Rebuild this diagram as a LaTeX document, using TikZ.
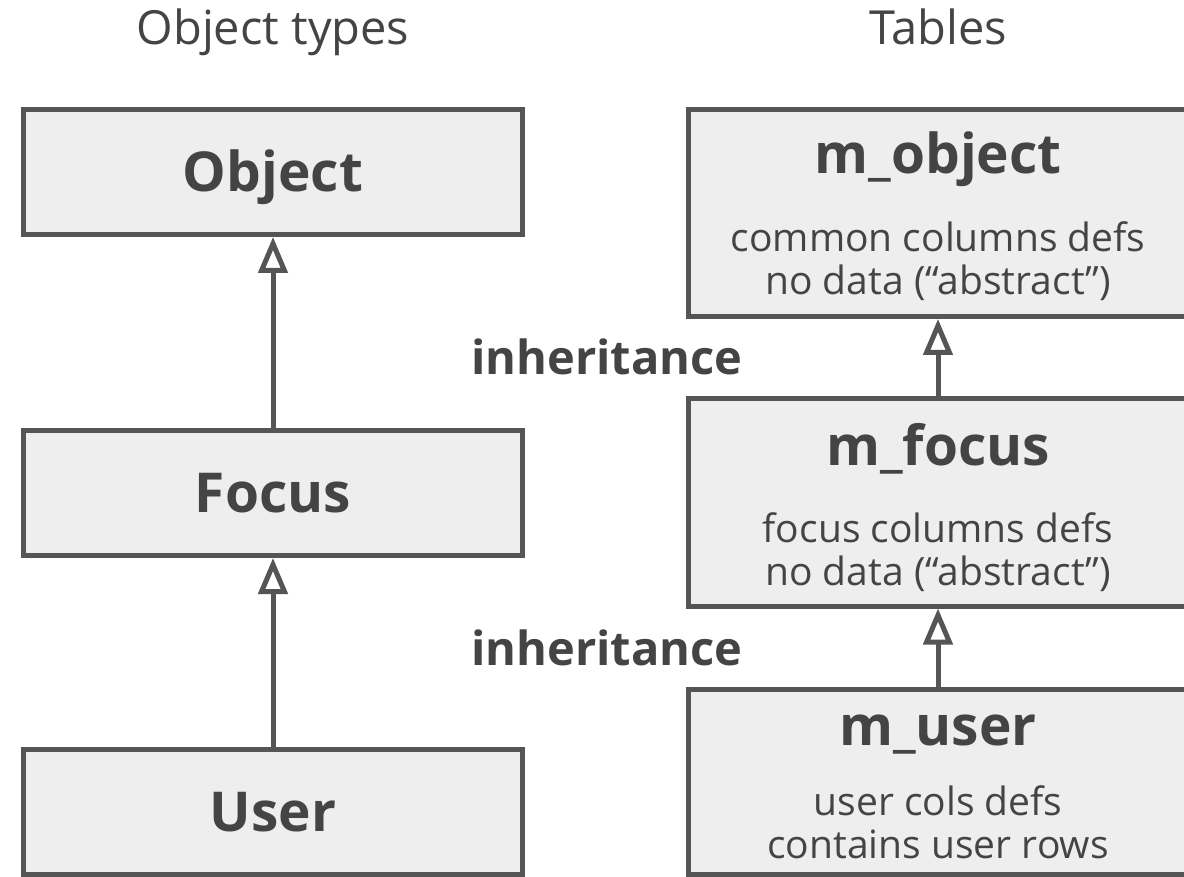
\documentclass[tikz,border=0pt]{standalone}
\usepackage{fontspec}
\setmainfont{Open Sans}
\usetikzlibrary{arrows.meta}
\definecolor{edge}{HTML}{555555}
\definecolor{boxfill}{HTML}{EEEEEE}
\definecolor{ink}{HTML}{444444}
\tikzset{
  box/.style={draw=edge, fill=boxfill, line width=5pt, inner sep=0pt, outer sep=0.5\pgflinewidth, minimum width=499pt},
  lbl/.style={text=ink, inner sep=0pt, anchor=base, font=\fontsize{55}{60}\selectfont\bfseries},
  sub/.style={text=ink, inner sep=0pt, anchor=base, font=\fontsize{39}{44}\selectfont},
  head/.style={text=ink, inner sep=0pt, anchor=base, font=\fontsize{47}{52}\selectfont},
  note/.style={text=ink, inner sep=0pt, anchor=base, font=\fontsize{47}{52}\selectfont\bfseries},
  isa/.style={draw=edge, line width=5pt, -{Triangle[open, length=36pt, width=29pt]}},
}
\begin{document}
\begin{tikzpicture}[x=1pt, y=-1pt]
\useasboundingbox (0,0) rectangle (1184,877);
\fill[white] (0,0) rectangle (1184,877);
\begin{scope}
\clip (0,0) rectangle (1184,877);

% column headings
\node[head] (hTypes) at (273,45) {Object types};
\node[head] (hTables) at (938,45) {Tables};

% object types
\node[box, minimum height=125pt] (obj) at (273,172) {};
\node[lbl] (objT) at (273,192) {Object};
\node[box, minimum height=125pt] (foc) at (273,493) {};
\node[lbl] (focT) at (273,512) {Focus};
\node[box, minimum height=125pt] (usr) at (273,812) {};
\node[lbl] (usrT) at (273,831) {User};

% tables
\node[box, minimum height=207pt] (mobj) at (938,213) {};
\node[lbl] (mobjT) at (938,174) {m\_object};
\node[sub] (mobjS1) at (938,252) {common columns defs};
\node[sub] (mobjS2) at (938,295) {no data (“abstract”)};
\node[box, minimum height=207pt] (mfoc) at (938,502.5) {};
\node[lbl] (mfocT) at (938,465) {m\_focus};
\node[sub] (mfocS1) at (938,542) {focus columns defs};
\node[sub] (mfocS2) at (938,585) {no data (“abstract”)};
\node[box, minimum height=185pt] (musr) at (938,781.5) {};
\node[lbl] (musrT) at (938,745) {m\_user};
\node[sub] (musrS1) at (938,815) {user cols defs};
\node[sub] (musrS2) at (938,858) {contains user rows};

% inheritance connectors
\draw[isa] (foc.north) -- (obj.south);
\draw[isa] (usr.north) -- (foc.south);
\draw[isa] (mfoc.north) -- (mobj.south);
\draw[isa] (musr.north) -- (mfoc.south);

\node[note] (inh1) at (607,375) {inheritance};
\node[note] (inh2) at (607,665) {inheritance};
\end{scope}
\end{tikzpicture}
\end{document}
